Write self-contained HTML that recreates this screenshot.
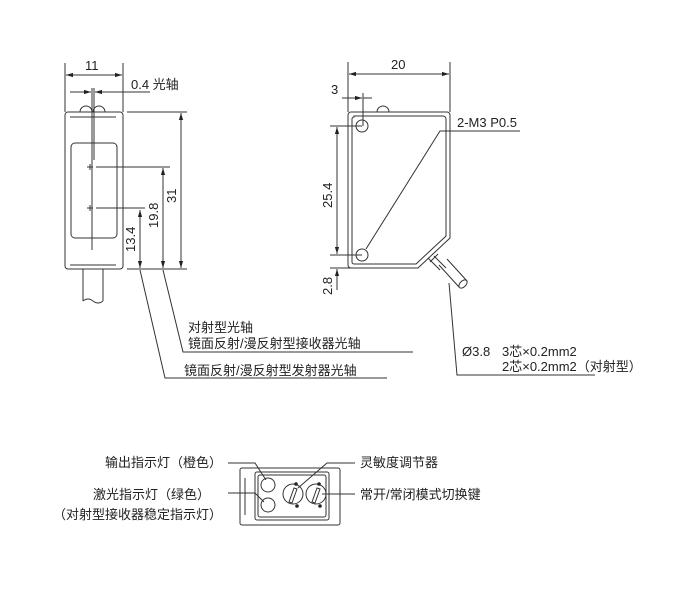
<!DOCTYPE html>
<html><head><meta charset="utf-8"><style>
body{margin:0;background:#fff}
svg{display:block}
text{font-family:"Liberation Sans","Noto Sans CJK SC",sans-serif;fill:#222}
</style></head><body>
<svg width="700" height="600" viewBox="0 0 700 600" xmlns="http://www.w3.org/2000/svg">
<defs>
<marker id="a" viewBox="0 0 10 10" refX="10" refY="5" markerWidth="7" markerHeight="7" orient="auto-start-reverse"><path d="M0,2 L10,5 L0,8z" fill="#222"/></marker>
</defs>
<g stroke="#333" stroke-width="1" fill="none">
<path d="M80,112 a6,6 0 0 1 12,0 M93,112 a6,6 0 0 1 12,0"/>
<rect x="65" y="112" width="58" height="157" rx="3"/>
<line x1="70" y1="117" x2="116" y2="117"/>
<line x1="70" y1="265" x2="116" y2="265"/>
<rect x="71" y="143" width="46" height="95" rx="4"/>
<line x1="92" y1="88" x2="92" y2="250"/>
<line x1="94" y1="88" x2="94" y2="160"/>
<path d="M87,167 h6 M90,164 v6 M87,208 h6 M90,205 v6"/>
<line x1="96" y1="167" x2="170" y2="167"/>
<line x1="96" y1="208" x2="145" y2="208"/>
<path d="M83,269 v32 M103,269 v32"/>
<path d="M83,301 q5,-4 10,0 q5,4 10,0"/>
<line x1="65" y1="63" x2="65" y2="112"/><line x1="123" y1="63" x2="123" y2="112"/>
<line x1="66" y1="75" x2="122" y2="75" marker-start="url(#a)" marker-end="url(#a)"/>
<line x1="70" y1="92" x2="91" y2="92" marker-end="url(#a)"/>
<line x1="150" y1="92" x2="95" y2="92" marker-end="url(#a)"/>
<line x1="127" y1="112" x2="187" y2="112"/>
<line x1="127" y1="269" x2="187" y2="269"/>
<line x1="140" y1="210" x2="140" y2="268" marker-start="url(#a)" marker-end="url(#a)"/>
<line x1="163" y1="168" x2="163" y2="268" marker-start="url(#a)" marker-end="url(#a)"/>
<line x1="181" y1="113" x2="181" y2="268" marker-start="url(#a)" marker-end="url(#a)"/>
<polyline points="140,270 165,378 387,378"/>
<polyline points="163,270 183,352 413,352"/>
<path d="M377,112 a6,6 0 0 1 12,0"/>
<path d="M351,112 H447 a3,3 0 0 1 3,3 V238 L418,268 H351 a3,3 0 0 1 -3,-3 V115 a3,3 0 0 1 3,-3z"/>
<path d="M354,116 H443 a3,3 0 0 1 3,3 V236 L416,264 H354 a2,2 0 0 1 -2,-2 V119 a2,2 0 0 1 2,-2z"/>
<circle cx="362" cy="126" r="6"/><circle cx="362" cy="255" r="6"/>
<polyline points="366,249 440,131 520,131"/>
<path d="M430,262 l8,-8 M428,258 l12,12 M434,256 l12,12"/>
<path d="M439,265 l20,22 M447,259 l20,22"/>
<ellipse cx="463" cy="284" rx="5" ry="3" transform="rotate(-45 463 284)"/>
<line x1="348" y1="62" x2="348" y2="112"/><line x1="450" y1="62" x2="450" y2="112"/>
<line x1="349" y1="74" x2="449" y2="74" marker-start="url(#a)" marker-end="url(#a)"/>
<line x1="342" y1="98" x2="362" y2="98" marker-end="url(#a)"/>
<line x1="363" y1="98" x2="372" y2="98"/>
<line x1="363" y1="93" x2="363" y2="126"/>
<line x1="330" y1="126" x2="362" y2="126"/>
<line x1="330" y1="255" x2="362" y2="255"/>
<line x1="337" y1="127" x2="337" y2="254" marker-start="url(#a)" marker-end="url(#a)"/>
<line x1="330" y1="268" x2="362" y2="268"/>
<line x1="337" y1="290" x2="337" y2="269" marker-end="url(#a)"/>
<line x1="337" y1="248" x2="337" y2="254"/>
<polyline points="449,283 457,375 595,375"/>
<rect x="240" y="468" width="100" height="57" rx="2"/>
<rect x="255" y="472" width="74" height="48" rx="2"/>
<rect x="258" y="475" width="68" height="42" rx="2"/>
<line x1="245" y1="478" x2="245" y2="515"/>
<circle cx="268" cy="485" r="7"/><circle cx="268" cy="505" r="7"/>
<circle cx="293" cy="494" r="10"/><circle cx="316" cy="494" r="10"/>
<path d="M289,502 l5,-14 l3,1 l-5,14z M312,502 l5,-14 l3,1 l-5,14z"/>
<polyline points="228,463 255,463 266,480"/>
<polyline points="228,493 255,493 264,502"/>
<polyline points="355,463 327,463 298,488"/>
<line x1="355" y1="494" x2="322" y2="494"/>
</g>
<g fill="#222">
<circle cx="296" cy="484" r="1.8"/><circle cx="297" cy="506" r="1.8"/>
<circle cx="319" cy="484" r="1.8"/><circle cx="320" cy="506" r="1.8"/>
</g>
<g font-size="13">
<text x="85" y="70">11</text>
<text x="131" y="89">0.4 光轴</text>
<text transform="translate(135,252) rotate(-90)">13.4</text>
<text transform="translate(158,228) rotate(-90)">19.8</text>
<text transform="translate(176,203) rotate(-90)">31</text>
<text x="188" y="332">对射型光轴</text>
<text x="188" y="348">镜面反射/漫反射型接收器光轴</text>
<text x="184" y="375">镜面反射/漫反射型发射器光轴</text>
<text x="391" y="69">20</text>
<text x="331" y="94">3</text>
<text x="457" y="127">2-M3 P0.5</text>
<text transform="translate(332,208) rotate(-90)">25.4</text>
<text transform="translate(332,295) rotate(-90)">2.8</text>
<text x="462" y="356">Ø3.8</text>
<text x="502" y="356">3芯×0.2mm2</text>
<text x="502" y="371">2芯×0.2mm2（对射型）</text>
<text x="222" y="467" text-anchor="end">输出指示灯（橙色）</text>
<text x="210" y="499" text-anchor="end">激光指示灯（绿色）</text>
<text x="222" y="519" text-anchor="end">（对射型接收器稳定指示灯）</text>
<text x="360" y="467">灵敏度调节器</text>
<text x="360" y="499">常开/常闭模式切换键</text>
</g>
</svg>
</body></html>
